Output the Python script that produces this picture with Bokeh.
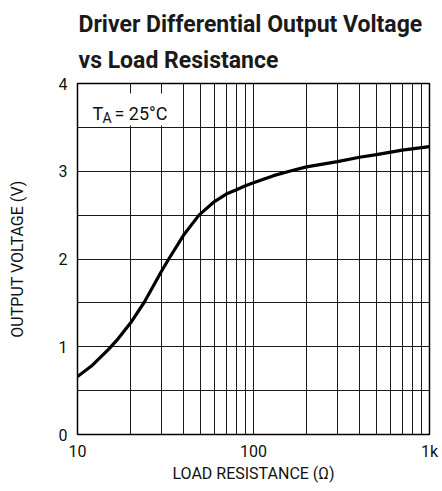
import math
from bokeh.plotting import figure
from bokeh.models import FixedTicker, Label, Range1d, Title
from bokeh.embed import file_html
from bokeh.resources import INLINE

# ---- data ----
load_res = [10, 12, 15, 17, 20, 24, 30, 33, 40, 49, 60, 70, 80, 90, 100, 130, 160, 200, 300, 400, 500, 700, 1000]
out_volt = [0.66, 0.78, 0.97, 1.09, 1.27, 1.51, 1.86, 2.00, 2.27, 2.50, 2.655, 2.74, 2.79, 2.835, 2.87, 2.95, 3.00, 3.05, 3.11, 3.16, 3.19, 3.24, 3.28]

x_major = [10, 100, 1000]
x_major_labels = {10: "10", 100: "100", 1000: "1k"}
x_grid = [10, 20, 30, 40, 50, 60, 70, 80, 90, 100, 200, 300, 400, 500, 600, 700, 800, 900, 1000]
y_major = [0, 1, 2, 3, 4]
y_grid = [0, 0.5, 1, 1.5, 2, 2.5, 3, 3.5, 4]

title_1 = "Driver Differential Output Voltage"
title_2 = "vs Load Resistance"
x_label = "LOAD RESISTANCE (Ω)"
y_label = "OUTPUT VOLTAGE (V)"

FONT = "Roboto"

W, H = 440, 490
FL, FR, FT, FB = 77, 429, 83, 434  # frame edges in canvas px

def xd(px):
    return 10 ** (1 + 2 * (px - FL) / (FR - FL))

def yd(py):
    return 4 * (FB - py) / (FB - FT)

p = figure(width=W, height=H, x_axis_type="log", output_backend="svg",
           toolbar_location=None, x_range=Range1d(10, 1000), y_range=Range1d(0, 4),
           min_border_left=FL, min_border_right=W - FR, min_border_top=FT,
           min_border_bottom=H - FB)
p.background_fill_color = "white"
p.border_fill_color = "white"
p.outline_line_color = "black"
p.outline_line_width = 1.5

bottom_axis = p.below[0]
left_axis = p.left[0]

for ax in (bottom_axis, left_axis):
    ax.axis_line_color = None
    ax.major_tick_line_color = None
    ax.minor_tick_line_color = None
    ax.major_tick_out = 0
    ax.major_tick_in = 0
    ax.minor_tick_out = 0
    ax.minor_tick_in = 0
    ax.major_label_text_font = FONT
    ax.major_label_text_font_size = "16px"
    ax.major_label_text_color = "#111111"
    ax.axis_label_text_font = FONT
    ax.axis_label_text_font_size = "16px"
    ax.axis_label_text_font_style = "normal"
    ax.axis_label_text_color = "#111111"

bottom_axis.ticker = FixedTicker(ticks=x_major)
bottom_axis.major_label_overrides = x_major_labels
bottom_axis.major_label_standoff = 7
bottom_axis.axis_label = x_label
bottom_axis.axis_label_standoff = 0
left_axis.ticker = FixedTicker(ticks=y_major)
left_axis.major_label_standoff = 10
left_axis.axis_label = y_label
left_axis.axis_label_standoff = 29

p.xgrid.ticker = FixedTicker(ticks=x_grid)
p.ygrid.ticker = FixedTicker(ticks=y_grid)
for g in (p.xgrid[0], p.ygrid[0]):
    g.grid_line_color = "#1a1a1a"
    g.grid_line_width = 1
    g.grid_line_alpha = 1

# two-line title
p.add_layout(Title(text=title_1 + "\n" + title_2, align="left", text_font=FONT,
                   text_font_style="bold", text_font_size="23px", text_color="#1a1a1a",
                   text_line_height=1.35, offset=1, standoff=18), "above")

# white box behind the temperature note
p.quad(left=[14], right=[36], bottom=[3.52], top=[yd(93)],
       fill_color="white", line_color=None)

p.line(load_res, out_volt, line_color="black", line_width=3.2)

# temperature note  T_A = 25°C
base_y = yd(113)
p.add_layout(Label(x=xd(92), y=base_y, text="T", text_font=FONT,
                   text_font_size="18px", text_baseline="alphabetic", text_color="#111111"))
p.add_layout(Label(x=xd(102), y=yd(117), text="A", text_font=FONT,
                   text_font_size="14px", text_baseline="alphabetic", text_color="#111111"))
p.add_layout(Label(x=xd(114), y=base_y, text="= 25°C", text_font=FONT,
                   text_font_size="18px", text_baseline="alphabetic", text_color="#111111"))

open("out.html", "w").write(file_html(p, INLINE))
